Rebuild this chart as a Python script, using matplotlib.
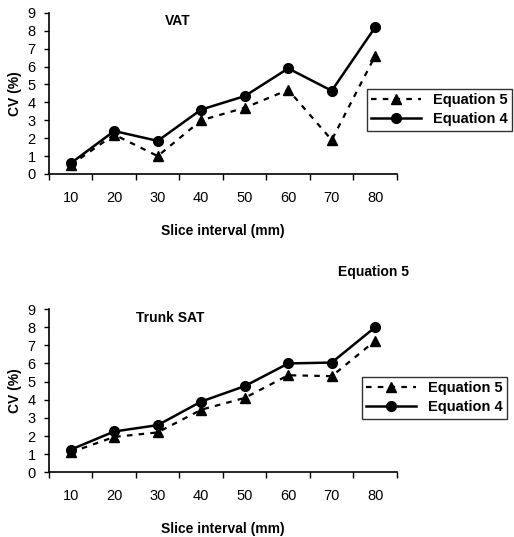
import matplotlib
matplotlib.use("Agg")
import matplotlib.pyplot as plt

plt.rcParams["font.family"] = ["Liberation Sans", "DejaVu Sans"]

slice_labels = ["10", "20", "30", "40", "50", "60", "70", "80"]

vat_eq5 = [0.5, 2.2, 1.0, 3.0, 3.7, 4.7, 1.9, 6.6]
vat_eq4 = [0.6, 2.4, 1.85, 3.6, 4.35, 5.9, 4.65, 8.2]

sat_eq5 = [1.1, 1.95, 2.2, 3.45, 4.1, 5.35, 5.3, 7.25]
sat_eq4 = [1.25, 2.25, 2.6, 3.9, 4.75, 6.0, 6.05, 8.0]


def _panel(ax, eq5, eq4, title, title_xy, legend_anchor):
    x = list(range(1, len(slice_labels) + 1))
    ax.plot(x, eq5, color="black", linestyle=(0, (2.5, 2.8)), linewidth=1.6,
            marker="^", markersize=7, label="Equation 5")
    ax.plot(x, eq4, color="black", linestyle="-", linewidth=1.8,
            marker="o", markersize=7, label="Equation 4")

    ax.set_xlim(0.5, len(slice_labels) + 0.5)
    ax.set_ylim(0, 9)
    ax.set_yticks(range(0, 10))
    ax.set_xticks(x)
    ax.set_xticklabels(slice_labels)
    ax.set_xticks([i + 0.5 for i in range(0, len(slice_labels) + 1)], minor=True)
    ax.tick_params(axis="x", which="major", length=0, pad=12, labelsize=10.5)
    ax.tick_params(axis="x", which="minor", direction="out", length=4, width=1)
    ax.tick_params(axis="y", direction="out", length=3.5, width=1, pad=6, labelsize=10.5)

    for side in ["top", "right"]:
        ax.spines[side].set_visible(False)
    for side in ["left", "bottom"]:
        ax.spines[side].set_linewidth(1.2)

    ax.set_ylabel("CV (%)", fontsize=10, fontweight="bold", labelpad=4)
    ax.set_xlabel("Slice interval (mm)", fontsize=10, fontweight="bold", labelpad=14)
    ax.text(title_xy[0], title_xy[1], title, fontsize=10, fontweight="bold",
            ha="center", va="center")

    leg = ax.legend(loc="upper left", bbox_to_anchor=legend_anchor,
                    bbox_transform=ax.figure.transFigure, frameon=True,
                    fancybox=False, edgecolor="black", handlelength=3.4,
                    borderpad=0.3, labelspacing=0.35, handletextpad=0.8,
                    borderaxespad=0, prop={"size": 10.5, "weight": "bold"})
    leg.get_frame().set_linewidth(1.0)


fig = plt.figure(figsize=(5.14, 5.37), dpi=100)
ax_top = fig.add_axes([0.0953, 0.676, 0.677, 0.300])
ax_bot = fig.add_axes([0.0953, 0.1205, 0.677, 0.304])

_panel(ax_top, vat_eq5, vat_eq4, "VAT", (3.47, 8.56), (367 / 514, 1 - 89 / 537))
_panel(ax_bot, sat_eq5, sat_eq4, "Trunk SAT", (3.28, 8.5), (362 / 514, 1 - 377 / 537))

fig.text(373 / 514, 1 - 272 / 537, "Equation 5", fontsize=10, fontweight="bold",
         ha="center", va="center")

fig.savefig("out.png", dpi=100)
